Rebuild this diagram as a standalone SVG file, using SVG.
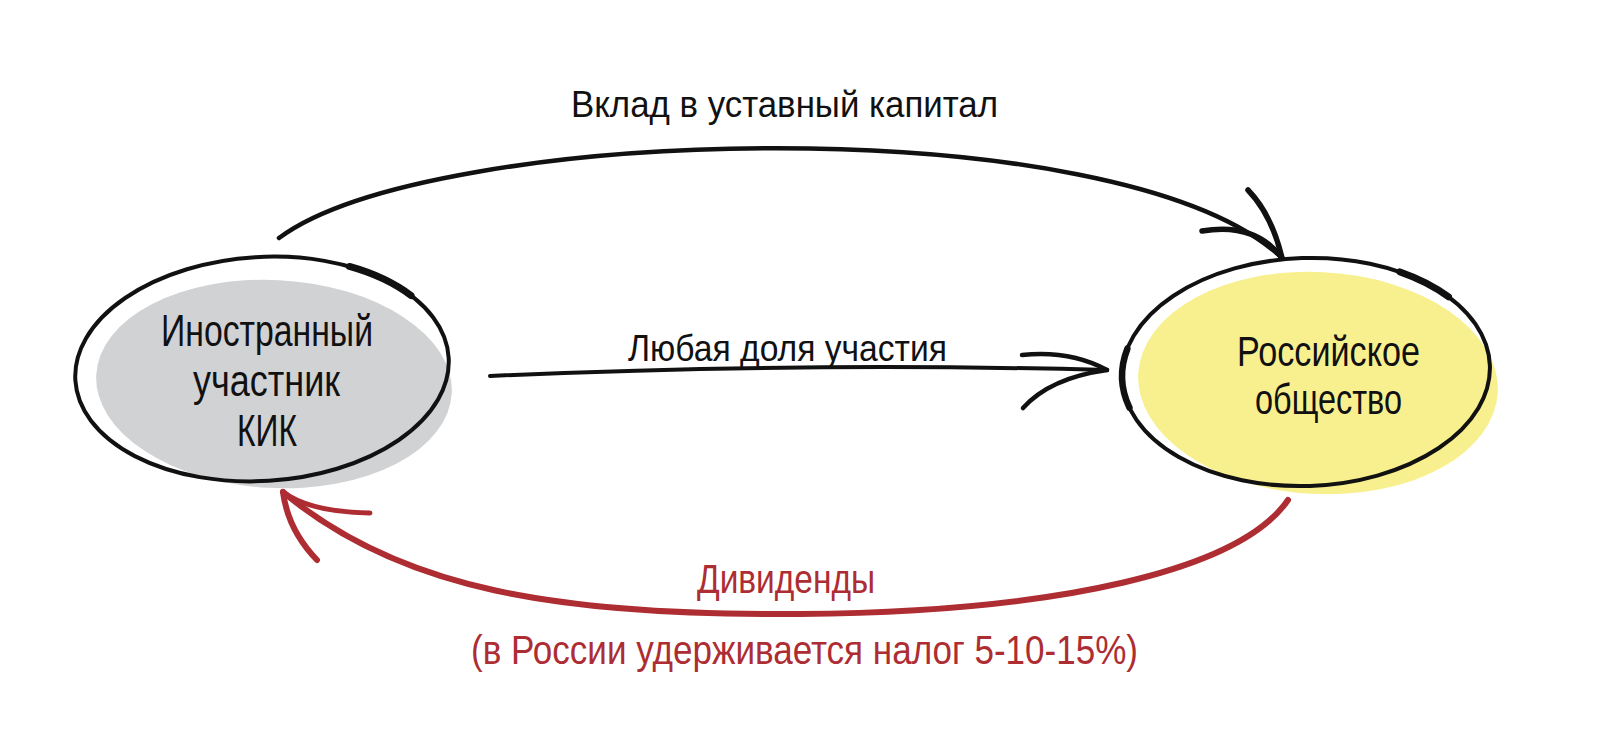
<svg xmlns="http://www.w3.org/2000/svg" width="1600" height="756" viewBox="0 0 1600 756">
<style>
text{font-family:"Liberation Sans Narrow","Liberation Sans",Arial,sans-serif;fill:#111;}
.red{fill:#ad2d33;}
.ink{fill:none;stroke:#111;stroke-linecap:round;stroke-linejoin:round;}
.rink{fill:none;stroke:#ad2d33;stroke-linecap:round;stroke-linejoin:round;}
</style>
<rect width="1600" height="756" fill="#fff"/>
<g id="node-foreign">
<ellipse cx="274" cy="384" rx="178" ry="104" fill="#d1d2d4" transform="rotate(3 274 384)"/>
<g transform="rotate(-3.5 262 369)">
<ellipse class="ink" cx="262" cy="369" rx="187" ry="112" stroke-width="4"/>
<path class="ink" d="M355.5,272 A187,112 0 0,1 415.2,304.8" stroke-width="7"/>
</g>
<text font-size="44"><tspan x="161" y="346" textLength="212" lengthAdjust="spacingAndGlyphs">Иностранный</tspan><tspan x="193" y="396" textLength="147" lengthAdjust="spacingAndGlyphs">участник</tspan><tspan x="237" y="446" textLength="60" lengthAdjust="spacingAndGlyphs">КИК</tspan></text>
</g>
<g id="node-russian">
<ellipse cx="1318" cy="383" rx="180" ry="111" fill="#f8f08f" transform="rotate(3 1318 383)"/>
<g transform="rotate(-2 1306 372)">
<ellipse class="ink" cx="1306" cy="372" rx="184" ry="114" stroke-width="4"/>
<path class="ink" d="M1403.5,275.3 A184,114 0 0,1 1451,301.8" stroke-width="7"/>
<path class="ink" d="M1128.3,342.5 A184,114 0 0,0 1128.3,401.5" stroke-width="6.5"/>
</g>
<text font-size="42"><tspan x="1237" y="366" textLength="183" lengthAdjust="spacingAndGlyphs">Российское</tspan><tspan x="1255" y="414" textLength="147" lengthAdjust="spacingAndGlyphs">общество</tspan></text>
</g>
<g id="connectors">
<path class="ink" d="M279,238 C430,125 1120,105 1282,258" stroke-width="4.5"/>
<path class="ink" d="M1248,190 Q1272,215 1282,258" stroke-width="5.5"/>
<path class="ink" d="M1202,231 Q1255,222 1282,258" stroke-width="5.5"/>
<path class="ink" d="M490,376 Q800,362 1107,370" stroke-width="4"/>
<path class="ink" d="M1022,355 Q1070,350 1107,370" stroke-width="4.5"/>
<path class="ink" d="M1023,408 Q1050,378 1107,370" stroke-width="4.5"/>
<path class="rink" d="M1288,500 C1240,570 1060,612 800,614 C560,616 400,590 283,492" stroke-width="6"/>
<path class="rink" d="M370,513 Q310,512 283,492" stroke-width="5"/>
<path class="rink" d="M317,560 Q288,530 283,492" stroke-width="6"/>
<text x="571" y="117" font-size="36" textLength="427" lengthAdjust="spacingAndGlyphs">Вклад в уставный капитал</text>
<text x="628" y="361" font-size="37" textLength="319" lengthAdjust="spacingAndGlyphs">Любая доля участия</text>
<text class="red" x="697" y="593" font-size="41" textLength="178" lengthAdjust="spacingAndGlyphs">Дивиденды</text>
<text class="red" x="471" y="664" font-size="40" textLength="667" lengthAdjust="spacingAndGlyphs">(в России удерживается налог 5-10-15%)</text>
</g>
</svg>
